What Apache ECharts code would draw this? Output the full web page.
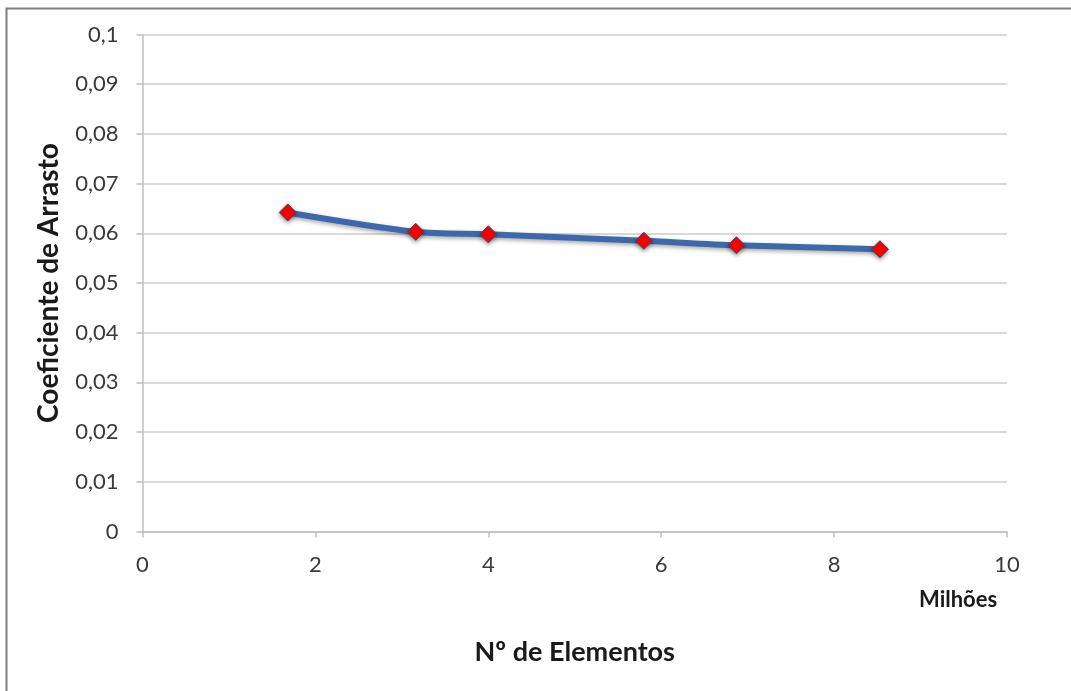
<!DOCTYPE html>
<html>
<head>
<meta charset="utf-8">
<script src="https://cdn.jsdelivr.net/npm/echarts@6/dist/echarts.min.js"></script>
<style>
  html, body { margin: 0; padding: 0; background: #fff; }
  #chart { width: 1071px; height: 691px; }
</style>
</head>
<body>
<div id="chart"></div>
<script>
// Nº de elementos (milhões) vs coeficiente de arrasto
const elementos = [1.68, 3.16, 4.00, 5.80, 6.87, 8.53]
const coeficiente = [0.0642, 0.0603, 0.0598, 0.0585, 0.0576, 0.0568]

const fonte = 'Lato, "Open Sans", sans-serif'

function virgula(v) {
  let s = (Math.round(v * 100) / 100).toString()
  return s.replace('.', ',')
}

const chart = echarts.init(document.getElementById('chart'))
chart.setOption({
  animation: false,
  backgroundColor: '#fff',
  graphic: [
    {
      type: 'rect',
      shape: { x: 6.5, y: 8.5, width: 1200, height: 800 },
      style: { fill: 'none', stroke: '#7f7f7f', lineWidth: 2 }
    },
    {
      type: 'text',
      left: 919,
      top: 589,
      style: { text: 'Milhões', fontFamily: fonte, fontWeight: 'bold', fontSize: 22, fill: '#1a1a1a' }
    }
  ],
  grid: { left: 142.5, right: 64, top: 34.5, bottom: 159.5 },
  xAxis: {
    type: 'value',
    min: 0,
    max: 10,
    interval: 2,
    name: 'Nº de Elementos',
    nameLocation: 'middle',
    nameGap: 107,
    nameTextStyle: { fontFamily: fonte, fontWeight: 'bold', fontSize: 27, color: '#1a1a1a' },
    axisLine: { onZero: false, lineStyle: { color: '#bfbfbf', width: 1.5 } },
    axisTick: { show: true, length: 6, lineStyle: { color: '#bfbfbf', width: 1.5 } },
    axisLabel: { fontFamily: fonte, fontSize: 22, color: '#3a3a3a', margin: 22 },
    splitLine: { show: false }
  },
  yAxis: {
    type: 'value',
    min: 0,
    max: 0.1,
    interval: 0.01,
    name: 'Coeficiente de Arrasto',
    nameLocation: 'middle',
    nameGap: 80,
    nameRotate: 90,
    nameTextStyle: { fontFamily: fonte, fontWeight: 'bold', fontSize: 28, color: '#1a1a1a' },
    axisLine: { show: true, lineStyle: { color: '#bfbfbf', width: 1.5 } },
    axisTick: { show: true, length: 6, lineStyle: { color: '#bfbfbf', width: 1.5 } },
    axisLabel: { fontFamily: fonte, fontSize: 22, color: '#3a3a3a', margin: 24, formatter: virgula },
    splitLine: { lineStyle: { color: '#d9d9d9', width: 2 } }
  },
  series: [
    {
      type: 'line',
      data: elementos.map((x, i) => [x, coeficiente[i]]),
      smooth: 0.3,
      symbol: 'diamond',
      symbolSize: 17,
      lineStyle: {
        color: '#3d68ab',
        width: 6,
        shadowColor: 'rgba(0,0,0,0.35)',
        shadowBlur: 4,
        shadowOffsetY: 2
      },
      itemStyle: {
        color: '#ff0000',
        borderColor: '#2c4d75',
        borderWidth: 1,
        shadowColor: 'rgba(0,0,0,0.4)',
        shadowBlur: 4,
        shadowOffsetY: 2
      }
    }
  ]
})
</script>
</body>
</html>
